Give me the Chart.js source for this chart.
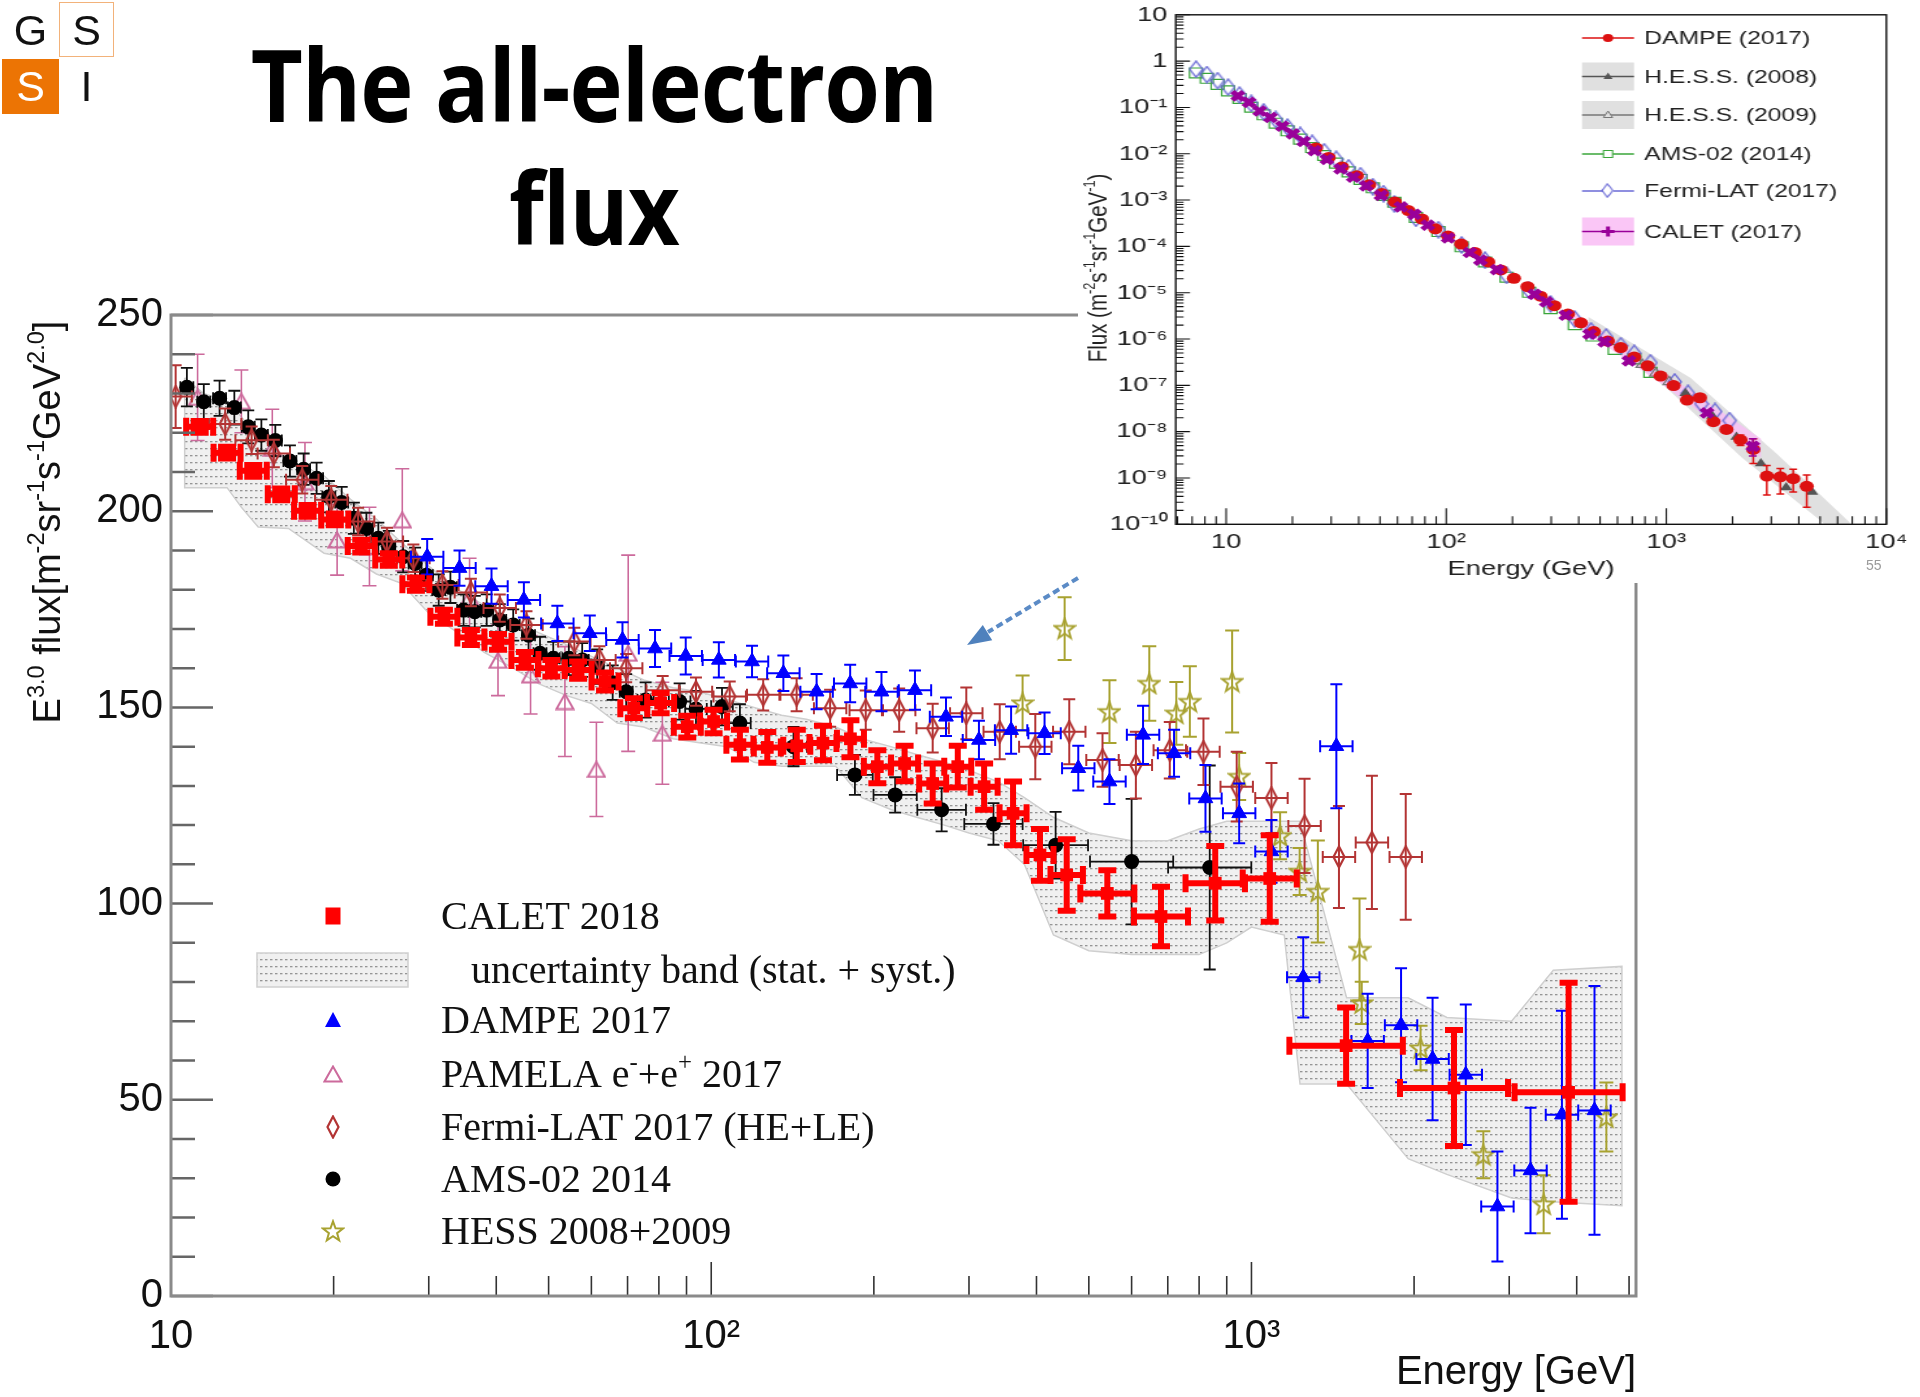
<!DOCTYPE html>
<html lang="en">
<head>
<meta charset="UTF-8" />
<title>The all-electron flux</title>
<script src="https://cdn.jsdelivr.net/npm/chart.js"></script>
<style>
  html, body { margin: 0; padding: 0; background: #fff; }
  body { position: relative; width: 1920px; height: 1397px; overflow: hidden; }
  canvas { display: block; }
  #main { position: absolute; left: 0; top: 0; }
  #title {
    position: absolute; left: 0; top: 22px; width: 1188px; text-align: center;
    font-family: 'Open Sans', sans-serif; font-weight: 700; font-size: 100px; line-height: 123px;
    letter-spacing: -1px; transform: scaleX(0.9); color: #000;
  }
  .cell {
    position: absolute; width: 57px; height: 55px; line-height: 55px; text-align: center;
    font-family: 'Liberation Sans', Arial, sans-serif; font-size: 43px; box-sizing: border-box; color: #111;
  }
  #insetBox { position: absolute; left: 1078px; top: 0; width: 842px; height: 583px; background: #fff; overflow: hidden; }
  #inset { transform: scaleX(1.3); transform-origin: 0 0; }
  #arrow { position: absolute; left: 0; top: 0; pointer-events: none; }
  #pageNo { position: absolute; left: 1866px; top: 557px; font: 14px 'Liberation Sans', sans-serif; color: #9a9a9a; }
</style>
</head>
<body>
  <canvas id="main" width="1920" height="1397"></canvas>

  <div class="cell" style="left:2px;top:3px;">G</div>
  <div class="cell" style="left:59px;top:2px;width:55px;border:1.5px solid #f2b27a;">S</div>
  <div class="cell" style="left:2px;top:59px;background:#ec7404;color:#fff;">S</div>
  <div class="cell" style="left:59px;top:59px;width:55px;">I</div>

  <div id="title">The all-electron<br>flux</div>

  <div id="insetBox"><canvas id="inset" width="648" height="583"></canvas></div>
  <div id="pageNo">55</div>

  <svg id="arrow" width="1920" height="1397">
    <line x1="1078" y1="578" x2="988" y2="632" stroke="#5b8bc6" stroke-width="4" stroke-dasharray="7 4" />
    <polygon points="967,645 982.8,624.9 992.2,640.3" fill="#4f81bd" />
  </svg>

<script>
// ---------- main plot: E^3 x flux [m^-2 sr^-1 s^-1 GeV^2], E in GeV ----------
const calE = [11.3, 12.7, 14.2, 16.0, 17.9, 20.1, 22.5, 25.3, 28.4, 32.0,
  35.9, 40.3, 45.2, 50.6, 56.7, 63.6, 71.9, 80.6, 90.3, 101,
  113, 127, 144, 161, 181, 203, 228, 257, 286, 320,
  362, 406, 455, 541, 680, 857, 1081, 1497, 2371, 3864];
const calFlux = [221.5, 214.9, 210.3, 204.3, 200.1, 197.9, 191.1, 187.7, 181.4, 173.1,
  167.8, 166.7, 162.1, 160.0, 159.5, 156.6, 149.8, 151.1, 145.1, 146.4,
  140.5, 139.8, 140.2, 140.9, 142.0, 134.9, 135.7, 130.6, 134.9, 129.8,
  123.0, 112.4, 107.3, 102.6, 96.7, 105.2, 106.4, 63.8, 53.0, 51.9];
const calErr = [1.5, 1.5, 1.5, 1.5, 1.5, 1.5, 1.6, 1.6, 1.7, 1.8,
  1.9, 2.0, 2.0, 2.1, 2.2, 2.3, 2.5, 2.6, 2.8, 3.0,
  3.8, 3.9, 4.1, 4.4, 4.7, 4.2, 4.5, 5.1, 5.3, 5.9,
  8.1, 6.6, 9.1, 5.9, 7.6, 9.5, 11.0, 9.7, 14.8, 27.9];
const calHalfBin = [0.025, 0.025, 0.025, 0.025, 0.025, 0.025, 0.025, 0.025, 0.025, 0.025,
  0.025, 0.025, 0.025, 0.025, 0.025, 0.025, 0.025, 0.025, 0.025, 0.025,
  0.025, 0.025, 0.025, 0.025, 0.025, 0.025, 0.025, 0.025, 0.025, 0.025,
  0.025, 0.025, 0.03, 0.05, 0.05, 0.055, 0.05, 0.105, 0.1, 0.1];

const bandE = [10.6, 11.5, 12.7, 13.5, 14.5, 16.5, 19.2, 21.5, 24, 26.7,
  30, 34, 38, 43, 48, 54, 60, 67, 75, 85,
  95, 107, 120, 135, 150, 170, 190, 215, 240, 270,
  300, 340, 380, 430, 500, 600, 700, 800, 900, 1000,
  1150, 1230, 1500, 1950, 2300, 3030, 3620, 4850];
const bandHi = [234, 230, 228, 224, 219, 213, 209, 203, 198, 192,
  186, 180, 176, 172, 169, 166, 163, 160, 157, 155,
  154, 152, 150, 148, 147, 145, 142, 140, 138, 136,
  134, 131, 127, 122, 118, 116, 116, 119, 121, 121,
  121, 121, 76, 76, 71, 70, 83, 84];
const bandLo = [206, 206, 206, 201, 196, 195.6, 189.3, 188, 184, 181.6,
  174, 169, 164, 160, 156, 153, 151, 146, 145, 142,
  141, 140, 136, 135, 135, 135, 127, 124, 122, 120,
  118, 116, 110, 92, 88, 87, 87, 87, 90, 94,
  92, 54, 54, 35, 31, 25, 24, 23];

const dampeE = [29.8, 34.2, 39.2, 45.0, 51.9, 59.6, 68.5, 78.7, 89.7, 103.3,
  119, 136, 156.7, 180.8, 206.6, 238.3, 272, 313, 359, 414,
  478, 546, 630, 719, 822, 949, 1089, 1247, 1436, 1641,
  1892, 2164, 2493, 2853, 3285, 3756, 4315];
const dampeFlux = [188.4, 185.5, 180.9, 177.4, 171.4, 168.9, 167.2, 165.0, 163.1, 162.1,
  161.7, 158.7, 154.0, 156.1, 154.0, 154.4, 147.6, 141.7, 144.2, 143.4,
  134.5, 131.1, 143.0, 138.3, 126.8, 123.0, 113.3, 81.2, 140.1, 65.0,
  69.0, 60.4, 56.4, 22.8, 32.0, 46.2, 47.3];
const dampeErr = [4.5, 4.5, 4.5, 4.5, 4.5, 4.5, 4.5, 4.7, 4.7, 4.5,
  4.0, 4.5, 4.5, 4.8, 5.0, 5.0, 4.9, 4.9, 6.0, 5.3,
  5.7, 5.7, 7.4, 6.0, 8.5, 7.6, 8.0, 10.2, 15.8, 12.0,
  14.5, 15.6, 17.9, 14.0, 16.0, 26.5, 31.7];
const dampeHalfBin = 0.03;

const pamelaE = [11.2, 13.5, 15.4, 17.7, 20.3, 23.3, 26.8, 35.7, 40.3, 46.3, 53.6, 61.3, 70.2, 81.2];
const pamelaFlux = [229, 228, 216, 207.5, 192.7, 191, 197.8, 178, 162, 158.3, 151.5, 134.2, 163.8, 143.4];
const pamelaErr = [11, 8, 10, 10, 9, 10, 13, 10, 9, 10, 14, 12, 25, 13];

const fermiE = [10.2, 12.6, 14.1, 15.5, 17.5, 19.8, 22.2, 25.1, 28.1, 31.8,
  35.9, 40.6, 45.5, 55.8, 62.1, 69.6, 81.3, 93.7, 108.2, 124.8,
  143.9, 166, 193.2, 222.8, 257, 296.6, 342, 398, 460, 530,
  611, 706, 815, 939, 1089, 1254, 1452, 1671, 1930];
const fermiFlux = [229.2, 222.2, 218.1, 214.7, 208.0, 202.9, 197.4, 192.3, 188.0, 181.2,
  179.3, 175.3, 171.0, 166.8, 162.1, 160.0, 154.4, 154.0, 152.8, 153.2,
  153.2, 149.8, 149.3, 149.3, 144.7, 148.5, 143.8, 140.0, 143.8, 136.6,
  135.3, 139.1, 138.7, 129.8, 126.9, 119.8, 111.9, 115.6, 111.9];
const fermiErr = [8, 4, 3.5, 3.5, 3.5, 3.5, 3.5, 3.5, 3.5, 3.5,
  3.5, 3.5, 3.5, 3.5, 3.5, 3.6, 3.6, 3.6, 3.8, 4,
  4.2, 4.7, 5, 5.5, 6.2, 6.6, 7, 8.3, 8.3, 6.8,
  8.5, 7.2, 8.5, 8.9, 8.9, 12, 13, 17, 16];
const fermiHalfBin = 0.03;

const amsE = [10.7, 11.5, 12.3, 13.1, 13.9, 14.7, 15.6, 16.6, 17.6, 18.6,
  19.6, 20.7, 21.8, 23.0, 24.2, 25.3, 26.9, 28.3, 29.7, 31.3,
  32.9, 34.8, 36.5, 38.4, 40.6, 43.0, 45.9, 48.2, 51.0, 54.5,
  57.7, 61.5, 65.7, 69.6, 75.6, 87.4, 93.7, 104.7, 113, 142,
  184.5, 219, 267, 333, 434, 600, 837];
const amsFlux = [231.6, 227.9, 228.8, 226.4, 221.5, 219.4, 218.0, 212.8, 210.7, 208.4,
  203.7, 202.2, 198.2, 195.6, 193.1, 191.0, 188.4, 186.7, 183.7, 179.9,
  180.6, 174.8, 174.4, 174.8, 172.3, 171.0, 168.4, 163.8, 162.5, 162.5,
  162.1, 160.4, 156.3, 154.0, 151.9, 151.5, 149.6, 150.2, 146.0, 140.0,
  132.8, 127.7, 123.9, 120.3, 114.9, 110.7, 109.2];
const amsErr = [4.9, 4.5, 4.5, 4.3, 4.2, 4.0, 4.0, 4.0, 4.0, 4.0,
  4.0, 4.0, 4.0, 4.0, 4.0, 4.0, 4.0, 4.0, 4.0, 4.0,
  4.0, 4.0, 4.0, 4.0, 4.0, 4.0, 4.2, 4.2, 4.2, 4.3,
  4.3, 4.4, 4.4, 4.5, 4.5, 4.6, 4.6, 4.8, 4.8, 5.0,
  5.1, 4.5, 5.5, 5.3, 8.5, 16, 26];
const amsHalfBin = [0.012, 0.012, 0.012, 0.012, 0.012, 0.012, 0.012, 0.012, 0.012, 0.012,
  0.012, 0.012, 0.012, 0.012, 0.012, 0.012, 0.012, 0.012, 0.012, 0.012,
  0.012, 0.012, 0.012, 0.012, 0.012, 0.012, 0.012, 0.012, 0.012, 0.012,
  0.012, 0.012, 0.012, 0.012, 0.015, 0.02, 0.02, 0.02, 0.02, 0.025,
  0.033, 0.04, 0.045, 0.054, 0.06, 0.077, 0.077];

const hessE = [377, 451, 546, 647, 726, 769, 921, 949, 1130, 1228, 1327, 1585, 1600, 2056, 2687, 3474, 4539];
const hessFlux = [151.1, 170.1, 148.9, 156.1, 148.5, 151.5, 156.6, 132.4, 117.3, 108.2, 103.1, 88.3, 74.7, 63.2, 36.0, 23.4, 45.6];
const hessErr = [7, 8, 8, 9.5, 8, 9, 13, 6, 6, 6, 13, 13, 5.4, 5.7, 6, 7.4, 8.8];

const mainXTicks = [10, 20, 30, 40, 50, 60, 70, 80, 90, 100, 200, 300, 400, 500, 600, 700, 800, 900, 1000, 2000, 3000, 4000, 5000];
const mainXLabelVals = [10, 100, 1000];
const mainXLabels = ['10', '10²', '10³'];
const mainYTicks = [0, 10, 20, 30, 40, 50, 60, 70, 80, 90, 100, 110, 120, 130, 140, 150, 160, 170, 180, 190, 200, 210, 220, 230, 240, 250];
const mainYLabelVals = [0, 50, 100, 150, 200, 250];
const mainYLabels = ['0', '50', '100', '150', '200', '250'];

// ---------- inset: flux [m^-2 s^-1 sr^-1 GeV^-1] ----------
const insDampeE = [25.6, 29.2, 33.6, 39.2, 44.6, 51.0, 58.4, 67.3, 77.5, 89.2,
  102, 117, 135, 155, 177, 203, 234, 268, 310, 357,
  409, 468, 542, 621, 715, 823, 942, 1079, 1242, 1422,
  1637, 1875, 2172, 2485, 2862, 3297, 3773, 4346];
const insDampeFlux = [0.01336, 8.34e-3, 5.2e-3, 3.37e-3, 2.14e-3, 1.38e-3, 9.14e-4, 5.92e-4, 3.90e-4, 2.39e-4,
  1.67e-4, 1.12e-4, 7.39e-5, 4.61e-5, 3.10e-5, 2.04e-5, 1.35e-5, 8.40e-6, 5.24e-6, 3.45e-6,
  2.24e-6, 1.45e-6, 9.03e-7, 6.55e-7, 4.08e-7, 2.64e-7, 1.59e-7, 9.88e-8, 4.82e-8, 5.40e-8,
  1.64e-8, 1.12e-8, 6.62e-9, 4.13e-9, 1.10e-9, 1.06e-9, 9.64e-10, 6.59e-10];
const insDampeLo = [null, null, null, null, null, null, null, null, null, null,
  null, null, null, null, null, null, null, null, null, null,
  null, null, null, null, null, null, null, null, null, null,
  null, null, 5.0e-9, 2.05e-9, 4.28e-10, 4.5e-10, 4.97e-10, 2.33e-10];
const insDampeHi = [null, null, null, null, null, null, null, null, null, null,
  null, null, null, null, null, null, null, null, null, null,
  null, null, null, null, null, null, null, null, null, null,
  null, null, 8.5e-9, 7.0e-9, 1.87e-9, 1.60e-9, 1.54e-9, 1.16e-9];

const insHess08E = [1222, 1618, 2084, 2690, 3505, 4595];
const insHess08Flux = [6.78e-8, 2.18e-8, 7.70e-9, 2.05e-9, 6.23e-10, 4.97e-10];
const insHess09E = [778, 896, 1031];
const insHess09Flux = [2.80e-7, 1.81e-7, 1.19e-7];

const insAmsE = [7.29, 8.17, 9.14, 10.2, 11.5, 13.0, 14.8, 16.8, 19.0, 21.7,
  24.6, 27.9, 31.6, 36.0, 40.8, 46.4, 51.9, 58.1, 72.8, 92.2,
  117.5, 150, 188, 238, 298, 384, 463, 583, 715, 847];
const insAmsFlux = [0.555, 0.426, 0.315, 0.228, 0.156, 0.101, 0.0693, 0.0457, 0.0313, 0.0207,
  0.0136, 9.16e-3, 6.28e-3, 4.07e-3, 2.79e-3, 1.84e-3, 1.26e-3, 8.96e-4, 4.21e-4, 2.09e-4,
  9.8e-5, 4.61e-5, 2.16e-5, 1.02e-5, 4.51e-6, 2.04e-6, 1.16e-6, 5.96e-7, 3.72e-7, 1.91e-7];

const insFermiE = [7.29, 8.17, 9.14, 10.2, 11.5, 13.0, 14.8, 16.8, 19.0, 21.7,
  24.6, 27.9, 31.6, 36.0, 40.8, 46.4, 51.9, 58.1, 72.8, 92.2,
  117.5, 150, 188, 238, 298, 384, 455, 533, 621, 715,
  847, 1091, 1256, 1446, 1665, 1939];
const insFermiFlux = [0.670, 0.514, 0.380, 0.275, 0.185, 0.122, 0.0805, 0.0552, 0.0378, 0.0249,
  0.0168, 0.01107, 7.6e-3, 5.0e-3, 3.37e-3, 1.95e-3, 1.38e-3, 8.3e-4, 4.06e-4, 2.30e-4,
  1.08e-4, 5.06e-5, 2.38e-5, 1.12e-5, 5.75e-6, 2.70e-6, 1.50e-6, 1.11e-6, 7.2e-7, 4.93e-7,
  3.08e-7, 1.19e-7, 6.77e-8, 3.99e-8, 2.73e-8, 1.74e-8];

const insCaletE = [11.3, 12.7, 14.2, 15.9, 18.0, 20.1, 22.5, 25.2, 28.7, 33.1,
  37.8, 43.3, 50.5, 62.2, 71.6, 82.4, 102, 128, 143, 170,
  252, 285, 349, 448, 524, 676, 1531, 2472];
const insCaletFlux = [0.178, 0.129, 0.0838, 0.0607, 0.0393, 0.0269, 0.0184, 0.0117, 7.59e-3, 4.73e-3,
  3.12e-3, 2.02e-3, 1.26e-3, 7.14e-4, 4.90e-4, 2.89e-4, 1.52e-4, 7.39e-5, 5.06e-5, 3.16e-5,
  9.24e-6, 6.33e-6, 3.26e-6, 1.27e-6, 8.69e-7, 3.38e-7, 2.54e-8, 4.80e-9];
const insCaletLo = [null, null, null, null, null, null, null, null, null, null,
  null, null, null, null, null, null, null, null, null, null,
  null, null, null, null, null, null, null, 2.99e-9];
const insCaletHi = [null, null, null, null, null, null, null, null, null, null,
  null, null, null, null, null, null, null, null, null, null,
  null, null, null, null, null, null, null, 7.0e-9];

const insHessBandHiE = [443, 1291, 3184, 6820];
const insHessBandHi = [3.0e-6, 1.44e-7, 3.29e-9, 1.09e-10];
const insHessBandLoE = [443, 975, 2208, 5140, 6820];
const insHessBandLo = [1.69e-6, 9.9e-8, 2.72e-9, 1.09e-10, 2.0e-11];
const insCaletBandE = [373, 975, 2690];
const insCaletBandHi = [3.94e-6, 1.91e-7, 7.0e-9];
const insCaletBandLo = [2.24e-6, 9.9e-8, 2.72e-9];

const insXTickVals = [10, 100, 1000, 10000];
const insXTickLabels = ['10', '10²', '10³', '10⁴'];
const insYTickVals = [1e-10, 1e-9, 1e-8, 1e-7, 1e-6, 1e-5, 1e-4, 1e-3, 1e-2, 1e-1, 1, 10];
const insYTickLabels = ['10⁻¹⁰', '10⁻⁹', '10⁻⁸', '10⁻⁷', '10⁻⁶', '10⁻⁵', '10⁻⁴', '10⁻³', '10⁻²', '10⁻¹', '1', '10'];

// ---------- styling helpers ----------
const RED = '#ff0000', BLUE = '#0000ff', PINK = '#cc6a9c', FERMI = '#b33434', OLIVE = '#a8a230';
const I_RED = '#dd1111', I_GREEN = '#3aa63a', I_BLUE = '#6a6ad6', I_PURPLE = '#990099';
const SANS = "'Liberation Sans', Arial, sans-serif";
const SERIF = "'Liberation Serif', 'Times New Roman', serif";
Chart.defaults.font.family = SANS;

const pts = (xs, ys) => xs.map((x, i) => ({ x, y: ys[i] }));
const shape = (xHi, hi, xLo, lo) => {
  const top = pts(xHi, hi), bottom = pts(xLo, lo).reverse();
  return top.concat(bottom, [top[0]]);
};

function mark(w, h, paint) {
  const c = document.createElement('canvas');
  c.width = w; c.height = h;
  paint(c.getContext('2d'), w, h);
  return c;
}
function starPath(g, cx, cy, R, r) {
  g.beginPath();
  for (let k = 0; k < 10; k++) {
    const ang = -Math.PI / 2 + k * Math.PI / 5, rad = k % 2 ? r : R;
    const px = cx + rad * Math.cos(ang), py = cy + rad * Math.sin(ang);
    if (k === 0) g.moveTo(px, py); else g.lineTo(px, py);
  }
  g.closePath();
}
const fermiMark = mark(14, 24, (g, w, h) => {
  g.strokeStyle = FERMI; g.lineWidth = 2.2;
  g.beginPath(); g.moveTo(w / 2, 1.5); g.lineTo(w - 1.5, h / 2); g.lineTo(w / 2, h - 1.5); g.lineTo(1.5, h / 2); g.closePath();
  g.stroke();
});
const pamelaMark = mark(20, 18, (g, w, h) => {
  g.strokeStyle = PINK; g.lineWidth = 2;
  g.beginPath(); g.moveTo(w / 2, 1.5); g.lineTo(w - 1.5, h - 1.5); g.lineTo(1.5, h - 1.5); g.closePath();
  g.stroke();
});
const hessMark = mark(24, 24, (g) => {
  g.strokeStyle = OLIVE; g.lineWidth = 2;
  starPath(g, 12, 12.8, 10.5, 4.3); g.stroke();
});
const insDiamond = mark(12, 18, (g, w, h) => {
  g.strokeStyle = I_BLUE; g.lineWidth = 1.4;
  g.beginPath(); g.moveTo(w / 2, 1); g.lineTo(w - 1, h / 2); g.lineTo(w / 2, h - 1); g.lineTo(1, h / 2); g.closePath();
  g.stroke();
});

const bandTile = mark(5, 7, (g) => {
  g.fillStyle = '#f0f0f0'; g.fillRect(0, 0, 5, 7);
  g.fillStyle = '#959595'; g.fillRect(0, 0, 2.5, 1.3);
});
const bandPattern = document.getElementById('main').getContext('2d').createPattern(bandTile, 'repeat');

function rich(ctx, parts, x, y, size, family, align) {
  const widths = parts.map(([t, sup]) => {
    ctx.font = `${sup ? size * 0.62 : size}px ${family}`;
    return ctx.measureText(t).width;
  });
  const total = widths.reduce((s, w) => s + w, 0);
  let cx = align === 'center' ? x - total / 2 : x;
  ctx.textAlign = 'left';
  ctx.textBaseline = 'alphabetic';
  parts.forEach(([t, sup], i) => {
    ctx.font = `${sup ? size * 0.62 : size}px ${family}`;
    ctx.fillText(t, cx, sup ? y - size * 0.42 : y);
    cx += widths[i];
  });
}

// error bars drawn just before each dataset's markers
const errorBars = {
  id: 'errorBars',
  beforeDatasetDraw(chart, args) {
    const ds = chart.data.datasets[args.index];
    const st = ds.errStyle;
    if (!st) return;
    const xs = chart.scales.x, ys = chart.scales.y, a = chart.chartArea, ctx = chart.ctx;
    ctx.save();
    ctx.beginPath();
    ctx.rect(a.left, a.top, a.right - a.left, a.bottom - a.top);
    ctx.clip();
    ctx.strokeStyle = st.color;
    ctx.lineWidth = st.width;
    ctx.beginPath();
    ds.data.forEach((p, i) => {
      const px = xs.getPixelForValue(p.x), py = ys.getPixelForValue(p.y);
      let hi = null, lo = null;
      if (ds.errY) { hi = p.y + ds.errY[i]; lo = p.y - ds.errY[i]; }
      if (ds.errHi && ds.errHi[i] != null) { hi = ds.errHi[i]; lo = ds.errLo[i]; }
      if (hi !== null) {
        const y1 = ys.getPixelForValue(hi), y2 = ys.getPixelForValue(lo);
        ctx.moveTo(px, y1); ctx.lineTo(px, y2);
        if (st.cap) {
          ctx.moveTo(px - st.cap, y1); ctx.lineTo(px + st.cap, y1);
          ctx.moveTo(px - st.cap, y2); ctx.lineTo(px + st.cap, y2);
        }
      }
      const h = Array.isArray(ds.errXDex) ? ds.errXDex[i] : ds.errXDex;
      if (h) {
        const f = Math.pow(10, h);
        const x1 = xs.getPixelForValue(p.x / f), x2 = xs.getPixelForValue(p.x * f);
        ctx.moveTo(x1, py); ctx.lineTo(x2, py);
        if (st.cap) {
          ctx.moveTo(x1, py - st.cap); ctx.lineTo(x1, py + st.cap);
          ctx.moveTo(x2, py - st.cap); ctx.lineTo(x2, py + st.cap);
        }
      }
    });
    ctx.stroke();
    ctx.restore();
  }
};

// inward ticks and frame, ROOT style
const mainFrame = {
  id: 'mainFrame',
  afterDatasetsDraw(chart) {
    const { ctx, chartArea: a, scales: { x, y } } = chart;
    ctx.save();
    ctx.strokeStyle = '#666';
    ctx.lineWidth = 2.5;
    ctx.beginPath();
    mainYTicks.forEach(v => {
      const py = y.getPixelForValue(v);
      const len = mainYLabelVals.includes(v) ? 42 : 24;
      ctx.moveTo(a.left, py); ctx.lineTo(a.left + len, py);
    });
    ctx.stroke();
    ctx.strokeStyle = '#333';
    ctx.lineWidth = 1.6;
    ctx.beginPath();
    mainXTicks.forEach(v => {
      const px = x.getPixelForValue(v);
      const len = mainXLabelVals.includes(v) ? 34 : 20;
      ctx.moveTo(px, a.bottom); ctx.lineTo(px, a.bottom - len);
    });
    ctx.stroke();
    ctx.strokeStyle = '#8a8a8a';
    ctx.lineWidth = 3;
    ctx.strokeRect(a.left, a.top, a.right - a.left, a.bottom - a.top);
    ctx.restore();
  },
  afterDraw(chart) {
    const ctx = chart.ctx;
    ctx.save();
    // y axis title
    ctx.fillStyle = '#111';
    ctx.translate(60, 522);
    ctx.rotate(-Math.PI / 2);
    rich(ctx, [['E'], ['3.0', 1], [' flux[m'], ['-2', 1], ['sr'], ['-1', 1], ['s'], ['-1', 1], ['GeV'], ['2.0', 1], [']']], 0, 0, 38, SANS, 'center');
    ctx.restore();

    // legend
    const rows = [916, 970, 1020, 1074, 1127, 1179, 1231];
    const sx = 333, tx = 441;
    ctx.save();
    ctx.fillStyle = RED;
    ctx.fillRect(sx - 7.5, rows[0] - 8.5, 15, 17);
    ctx.fillStyle = bandPattern;
    ctx.fillRect(257, 953, 151, 34);
    ctx.strokeStyle = '#cfcfcf'; ctx.lineWidth = 1.5;
    ctx.strokeRect(257, 953, 151, 34);
    ctx.fillStyle = BLUE;
    ctx.beginPath(); ctx.moveTo(sx, rows[2] - 8); ctx.lineTo(sx + 8, rows[2] + 7); ctx.lineTo(sx - 8, rows[2] + 7); ctx.closePath(); ctx.fill();
    ctx.drawImage(pamelaMark, sx - pamelaMark.width / 2, rows[3] - pamelaMark.height / 2);
    ctx.drawImage(fermiMark, sx - fermiMark.width / 2, rows[4] - fermiMark.height / 2);
    ctx.fillStyle = '#000';
    ctx.beginPath(); ctx.arc(sx, rows[5], 7.5, 0, 2 * Math.PI); ctx.fill();
    ctx.drawImage(hessMark, sx - hessMark.width / 2, rows[6] - hessMark.height / 2);

    ctx.fillStyle = '#111';
    const base = 13;
    rich(ctx, [['CALET 2018']], tx, rows[0] + base, 40, SERIF);
    rich(ctx, [['uncertainty band (stat. + syst.)']], 471, rows[1] + base, 40, SERIF);
    rich(ctx, [['DAMPE 2017']], tx, rows[2] + base, 40, SERIF);
    rich(ctx, [['PAMELA e'], ['-', 1], ['+e'], ['+', 1], [' 2017']], tx, rows[3] + base, 40, SERIF);
    rich(ctx, [['Fermi-LAT 2017 (HE+LE)']], tx, rows[4] + base, 40, SERIF);
    rich(ctx, [['AMS-02 2014']], tx, rows[5] + base, 40, SERIF);
    rich(ctx, [['HESS 2008+2009']], tx, rows[6] + base, 40, SERIF);
    ctx.restore();
  }
};

new Chart(document.getElementById('main'), {
  type: 'scatter',
  data: {
    datasets: [
      {
        label: 'CALET 2018', data: pts(calE, calFlux), order: 0,
        pointStyle: 'rect', pointRadius: 9, backgroundColor: RED, borderColor: RED, borderWidth: 0,
        errY: calErr, errXDex: calHalfBin, errStyle: { color: RED, width: 6, cap: 9 }
      },
      {
        label: 'DAMPE 2017', data: pts(dampeE, dampeFlux), order: 1,
        pointStyle: 'triangle', pointRadius: 8.5, backgroundColor: BLUE, borderColor: BLUE, borderWidth: 1,
        errY: dampeErr, errXDex: dampeHalfBin, errStyle: { color: BLUE, width: 2, cap: 6 }
      },
      {
        label: 'Fermi-LAT 2017 (HE+LE)', data: pts(fermiE, fermiFlux), order: 2,
        pointStyle: fermiMark, pointRadius: 8,
        errY: fermiErr, errXDex: fermiHalfBin, errStyle: { color: FERMI, width: 2, cap: 6 }
      },
      {
        label: 'AMS-02 2014', data: pts(amsE, amsFlux), order: 3,
        pointStyle: 'circle', pointRadius: 7.5, backgroundColor: '#000', borderColor: '#000', borderWidth: 0,
        errY: amsErr, errXDex: amsHalfBin, errStyle: { color: '#111', width: 1.8, cap: 6 }
      },
      {
        label: 'PAMELA e-+e+ 2017', data: pts(pamelaE, pamelaFlux), order: 4,
        pointStyle: pamelaMark, pointRadius: 8,
        errY: pamelaErr, errStyle: { color: PINK, width: 1.6, cap: 7 }
      },
      {
        label: 'HESS 2008+2009', data: pts(hessE, hessFlux), order: 5,
        pointStyle: hessMark, pointRadius: 9,
        errY: hessErr, errStyle: { color: OLIVE, width: 2, cap: 7 }
      },
      {
        label: 'uncertainty band (stat. + syst.)', type: 'line', order: 9,
        data: shape(bandE, bandHi, bandE, bandLo),
        fill: 'shape', backgroundColor: bandPattern, borderColor: '#cfcfcf', borderWidth: 1.5,
        pointRadius: 0, tension: 0
      }
    ]
  },
  options: {
    responsive: false,
    animation: false,
    layout: { padding: { top: 315, right: 284, left: 0, bottom: 0 } },
    plugins: { legend: { display: false }, tooltip: { enabled: false } },
    scales: {
      x: {
        type: 'logarithmic', min: 10, max: 5150,
        afterFit: s => { s.height = 101; },
        afterBuildTicks: s => { s.ticks = mainXTicks.map(v => ({ value: v })); },
        grid: { display: false, drawTicks: false },
        border: { display: false },
        ticks: {
          autoSkip: false, maxRotation: 0, minRotation: 0, padding: 17, color: '#111',
          font: { size: 40 },
          callback: v => { const i = mainXLabelVals.indexOf(v); return i >= 0 ? mainXLabels[i] : ''; }
        },
        title: { display: true, text: 'Energy [GeV]', align: 'end', color: '#111', font: { size: 40 }, padding: { top: 0, bottom: 0 } }
      },
      y: {
        type: 'linear', min: 0, max: 250,
        afterFit: s => { s.width = 171; },
        afterBuildTicks: s => { s.ticks = mainYTicks.map(v => ({ value: v })); },
        grid: { display: false, drawTicks: false },
        border: { display: false },
        ticks: {
          autoSkip: false, padding: 8, color: '#111', font: { size: 40 },
          callback: v => { const i = mainYLabelVals.indexOf(v); return i >= 0 ? mainYLabels[i] : ''; }
        }
      }
    }
  },
  plugins: [errorBars, mainFrame]
});

// ---------- inset ----------
const insetDecor = {
  id: 'insetDecor',
  afterDatasetsDraw(chart) {
    const { ctx, chartArea: a, scales: { x, y } } = chart;
    ctx.save();
    ctx.strokeStyle = '#111';
    ctx.lineWidth = 1.1;
    ctx.beginPath();
    for (let k = -10; k <= 1; k++) {
      for (let m = 1; m <= 9; m++) {
        const v = m * Math.pow(10, k);
        if (v < y.min * 0.999 || v > y.max * 1.001) continue;
        const py = y.getPixelForValue(v), len = m === 1 ? 11 : 6;
        ctx.moveTo(a.left, py); ctx.lineTo(a.left + len, py);
      }
    }
    for (let k = 0; k <= 4; k++) {
      for (let m = 1; m <= 9; m++) {
        const v = m * Math.pow(10, k);
        if (v < x.min || v > x.max * 1.001) continue;
        const px = x.getPixelForValue(v), len = m === 1 ? 16 : 8;
        ctx.moveTo(px, a.bottom); ctx.lineTo(px, a.bottom - len);
      }
    }
    ctx.stroke();
    ctx.lineWidth = 1.4;
    ctx.strokeRect(a.left, a.top, a.right - a.left, a.bottom - a.top);
    ctx.restore();
  },
  afterDraw(chart) {
    const ctx = chart.ctx;
    const ds = chart.data.datasets;
    const rows = [38, 76.5, 115, 154, 191, 231.5];
    const x0 = 387.7, x1 = 427.7, xm = 407.7, tx = 435.5;
    ctx.save();
    ctx.fillStyle = '#e0e0e0';
    ctx.fillRect(x0, rows[1] - 14, 40, 28);
    ctx.fillRect(x0, rows[2] - 14, 40, 28);
    ctx.fillStyle = '#fac6f6';
    ctx.fillRect(x0, rows[5] - 14, 40, 28);
    const cols = [I_RED, '#555', '#777', I_GREEN, I_BLUE, I_PURPLE];
    ctx.lineWidth = 1.3;
    rows.forEach((r, i) => {
      ctx.strokeStyle = cols[i];
      ctx.beginPath(); ctx.moveTo(x0, r); ctx.lineTo(x1, r); ctx.stroke();
    });
    ctx.fillStyle = I_RED;
    ctx.beginPath(); ctx.arc(xm, rows[0], 4, 0, 2 * Math.PI); ctx.fill();
    ctx.fillStyle = '#555';
    ctx.beginPath(); ctx.moveTo(xm, rows[1] - 4); ctx.lineTo(xm + 3.5, rows[1] + 2.5); ctx.lineTo(xm - 3.5, rows[1] + 2.5); ctx.closePath(); ctx.fill();
    ctx.strokeStyle = '#777'; ctx.lineWidth = 1;
    ctx.fillStyle = '#e0e0e0';
    ctx.beginPath(); ctx.moveTo(xm, rows[2] - 4); ctx.lineTo(xm + 3.5, rows[2] + 2.5); ctx.lineTo(xm - 3.5, rows[2] + 2.5); ctx.closePath(); ctx.fill(); ctx.stroke();
    ctx.strokeStyle = I_GREEN; ctx.fillStyle = '#fff';
    ctx.fillRect(xm - 3.5, rows[3] - 3.5, 7, 7); ctx.strokeRect(xm - 3.5, rows[3] - 3.5, 7, 7);
    ctx.fillStyle = '#fff';
    ctx.fillRect(xm - 4, rows[4] - 6, 8, 12);
    ctx.drawImage(insDiamond, xm - insDiamond.width / 2 + 0.5, rows[4] - insDiamond.height / 2 + 1, insDiamond.width - 2, insDiamond.height - 3);
    ctx.strokeStyle = I_PURPLE; ctx.lineWidth = 3;
    ctx.beginPath(); ctx.moveTo(xm - 5, rows[5]); ctx.lineTo(xm + 5, rows[5]); ctx.moveTo(xm, rows[5] - 5); ctx.lineTo(xm, rows[5] + 5); ctx.stroke();

    ctx.fillStyle = '#222';
    ctx.font = `19px ${SANS}`;
    ctx.textAlign = 'left';
    ctx.textBaseline = 'middle';
    for (let i = 0; i < 6; i++) ctx.fillText(ds[i].label, tx, rows[i] + 1);

    ctx.translate(22, 268);
    ctx.rotate(-Math.PI / 2);
    rich(ctx, [['Flux (m'], ['-2', 1], ['s'], ['-1', 1], ['sr'], ['-1', 1], ['GeV'], ['-1', 1], [')']], 0, 0, 20.5, SANS, 'center');
    ctx.restore();
  }
};

new Chart(document.getElementById('inset'), {
  type: 'scatter',
  data: {
    datasets: [
      {
        label: 'DAMPE (2017)', data: pts(insDampeE, insDampeFlux), order: 1,
        pointStyle: 'circle', pointRadius: 5.5, backgroundColor: I_RED, borderColor: I_RED, borderWidth: 0,
        errLo: insDampeLo, errHi: insDampeHi, errStyle: { color: I_RED, width: 1.5, cap: 3 }
      },
      {
        label: 'H.E.S.S. (2008)', data: pts(insHess08E, insHess08Flux), order: 2,
        pointStyle: 'triangle', pointRadius: 5.5, backgroundColor: '#555', borderColor: '#555', borderWidth: 0
      },
      {
        label: 'H.E.S.S. (2009)', data: pts(insHess09E, insHess09Flux), order: 3,
        pointStyle: 'triangle', pointRadius: 5.5, backgroundColor: 'rgba(0,0,0,0)', borderColor: '#777', borderWidth: 1.2
      },
      {
        label: 'AMS-02 (2014)', data: pts(insAmsE, insAmsFlux), order: 5,
        pointStyle: 'rect', pointRadius: 7, backgroundColor: 'rgba(0,0,0,0)', borderColor: I_GREEN, borderWidth: 1.2
      },
      {
        label: 'Fermi-LAT (2017)', data: pts(insFermiE, insFermiFlux), order: 4,
        pointStyle: insDiamond, pointRadius: 7
      },
      {
        label: 'CALET (2017)', data: pts(insCaletE, insCaletFlux), order: 0,
        pointStyle: 'crossRot', pointRadius: 6, backgroundColor: I_PURPLE, borderColor: I_PURPLE, borderWidth: 4.5,
        errLo: insCaletLo, errHi: insCaletHi, errStyle: { color: I_PURPLE, width: 1.5, cap: 3 }
      },
      {
        label: 'H.E.S.S. band', type: 'line', order: 10,
        data: shape(insHessBandHiE, insHessBandHi, insHessBandLoE, insHessBandLo),
        fill: 'shape', backgroundColor: '#e0e0e0', borderWidth: 0, pointRadius: 0, tension: 0
      },
      {
        label: 'CALET band', type: 'line', order: 9,
        data: shape(insCaletBandE, insCaletBandHi, insCaletBandE, insCaletBandLo),
        fill: 'shape', backgroundColor: 'rgba(248,190,245,0.8)', borderWidth: 0, pointRadius: 0, tension: 0
      }
    ]
  },
  options: {
    responsive: false,
    animation: false,
    layout: { autoPadding: false, padding: { top: 10.7, right: 21.8, left: 0, bottom: 0 } },
    plugins: { legend: { display: false }, tooltip: { enabled: false } },
    scales: {
      x: {
        type: 'logarithmic', min: 5.9, max: 10000,
        afterFit: s => { s.height = 58.7; },
        afterBuildTicks: s => { s.ticks = insXTickVals.map(v => ({ value: v })); },
        grid: { display: false, drawTicks: false },
        border: { display: false },
        ticks: { autoSkip: false, maxRotation: 0, padding: 10, color: '#222', font: { size: 21, lineHeight: 0.8 }, callback: (v, i) => insXTickLabels[i] },
        title: { display: true, text: 'Energy (GeV)', color: '#222', font: { size: 21 }, padding: { top: 0, bottom: 1 } }
      },
      y: {
        type: 'logarithmic', min: 1e-10, max: 10,
        afterFit: s => { s.width = 75.2; },
        afterBuildTicks: s => { s.ticks = insYTickVals.map(v => ({ value: v })); },
        grid: { display: false, drawTicks: false },
        border: { display: false },
        ticks: { autoSkip: false, padding: 6.4, color: '#222', font: { size: 21, lineHeight: 0.8 }, callback: (v, i) => insYTickLabels[i] }
      }
    }
  },
  plugins: [errorBars, insetDecor]
});
</script>
</body>
</html>
